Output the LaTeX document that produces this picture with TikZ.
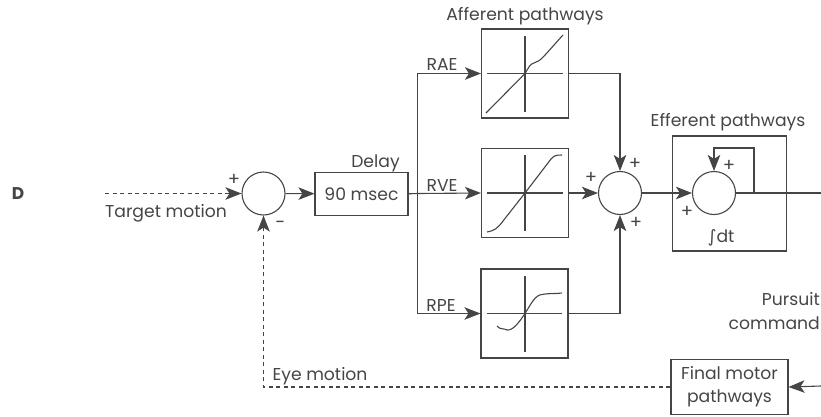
\documentclass[tikz,border=0pt]{standalone}
\usepackage{fontspec}
\setmainfont{Poppins}
\newfontfamily\symfont{DejaVu Sans}
\usetikzlibrary{arrows.meta}
\definecolor{ink}{gray}{0.27}
\tikzset{
  x=1pt,y=-1pt,
  every node/.style={text=ink,font=\fontsize{17.2}{23}\selectfont,inner sep=0pt,align=center},
  wire/.style={draw=ink,line width=1.1pt},
  tip/.style={-{Stealth[length=16pt,width=12.5pt,inset=4pt]}},
  arr/.style={wire,tip},
  dash wire/.style={draw=ink,line width=1.1pt,dash pattern=on 4pt off 3.5pt},
  sumnode/.style={circle,draw=ink,line width=1.1pt,minimum size=43pt},
  plotbox/.style={rectangle,draw=ink,line width=1.1pt,minimum width=87pt,minimum height=89pt},
  blockbox/.style={rectangle,draw=ink,line width=1.1pt},
  sign/.style={font=\fontsize{18}{18}\selectfont},
}
\begin{document}
\begin{tikzpicture}
\useasboundingbox (0,0) rectangle (821,416);
% boxes
\node[plotbox] (rae) at (525,73.5) {};
\node[plotbox] (rve) at (525,193) {};
\node[plotbox] (rpe) at (524.5,313.5) {};
\node[blockbox,minimum width=114pt,minimum height=115pt] (eff) at (729.7,193.5) {};
\node[blockbox,minimum width=93pt,minimum height=42.5pt] (delay) at (361.5,193.8) {90 msec};
\node[blockbox,minimum width=117pt,minimum height=55.5pt] (final) at (729.5,387) {Final motor\\pathways};
\node[sumnode] (s1) at (263.5,193.5) {};
\node[sumnode] (s2) at (620,193) {};
\node[sumnode] (s3) at (714,193) {};
% free ends
\coordinate (tin) at (105,193.5);
\coordinate (br) at (417.7,193.5);
\coordinate (outr) at (821,193);
\coordinate (cmd) at (821,386);
\coordinate (tap) at (754,193);
\coordinate (fbtop) at (754,148);
% connectors
\draw[arr] (s1) -- (delay);
\draw[wire] (delay.east) -- (br);
\draw[arr] (br) -- (rve.west);
\draw[arr] (br) |- (rae.west);
\draw[arr] (br) |- (rpe.west);
\draw[arr] (rae.east) -| (s2.north);
\draw[arr] (rve.east) -- (s2.west);
\draw[arr] (rpe.east) -| (s2.south);
\draw[arr] (s2.east) -- (s3.west);
\draw[wire] (s3.east) -- (outr);
\draw[arr] (tap) -- (fbtop) -| (s3.north);
\draw[arr] (cmd) -- (final.east);
\draw[dash wire] (tin) -- (228,193.5);
\draw[arr] (228,193.5) -- (s1.west);
\draw[dash wire] (final.west) -| (s1.south |- 0,230);
\draw[arr] (s1.south |- 0,230) -- (s1.south);
% plot axes
\draw[wire] (487,73.5) -- (563,73.5) (525,36) -- (525,112);
\draw[wire] (487,193) -- (563,193) (525,155) -- (525,231);
\draw[wire] (487,313.5) -- (562,313.5) (525,276) -- (525,352);
% plot curves
\draw[wire] (486,113) -- (525,73.5) .. controls (529,67) and (530,64) .. (534,63) .. controls (541,61) and (543,57) .. (563,35);
\draw[wire] (487,232) .. controls (494,231) and (498,228) .. (503,221) -- (525,193) -- (551,159) .. controls (554,155.5) and (556,155) .. (562,155);
\draw[wire] (497,326) .. controls (500,330) and (504,328) .. (507,330) .. controls (513,331) and (520,321) .. (525,313.5) .. controls (531,304) and (535,295) .. (542,294.5) .. controls (550,293) and (555,294) .. (562,293);
% labels
\node[font=\bfseries\fontsize{17}{19}\selectfont] (lD) at (18,194) {D};
\node (lt) at (166,213) {Target motion};
\node (ld) at (375.5,163) {Delay};
\node (la) at (525,16) {Afferent pathways};
\node (le) at (728,122) {Efferent pathways};
\node (l1) at (442,64) {RAE};
\node (l2) at (442,185) {RVE};
\node (l3) at (441,305) {RPE};
\node (lint) at (721,238) {{\symfont ∫}dt};
\node[anchor=east] (lp) at (820,299) {Pursuit};
\node[anchor=east] (lc) at (820,323) {command};
\node (lm) at (320,376) {Eye motion};
\node[sign] at (234,180) {+};
\node[sign] at (280,225) {−};
\node[sign] at (591,178) {+};
\node[sign] at (635,164) {+};
\node[sign] at (636,223) {+};
\node[sign] at (729,166) {+};
\node[sign] at (687,212) {+};
\end{tikzpicture}
\end{document}
